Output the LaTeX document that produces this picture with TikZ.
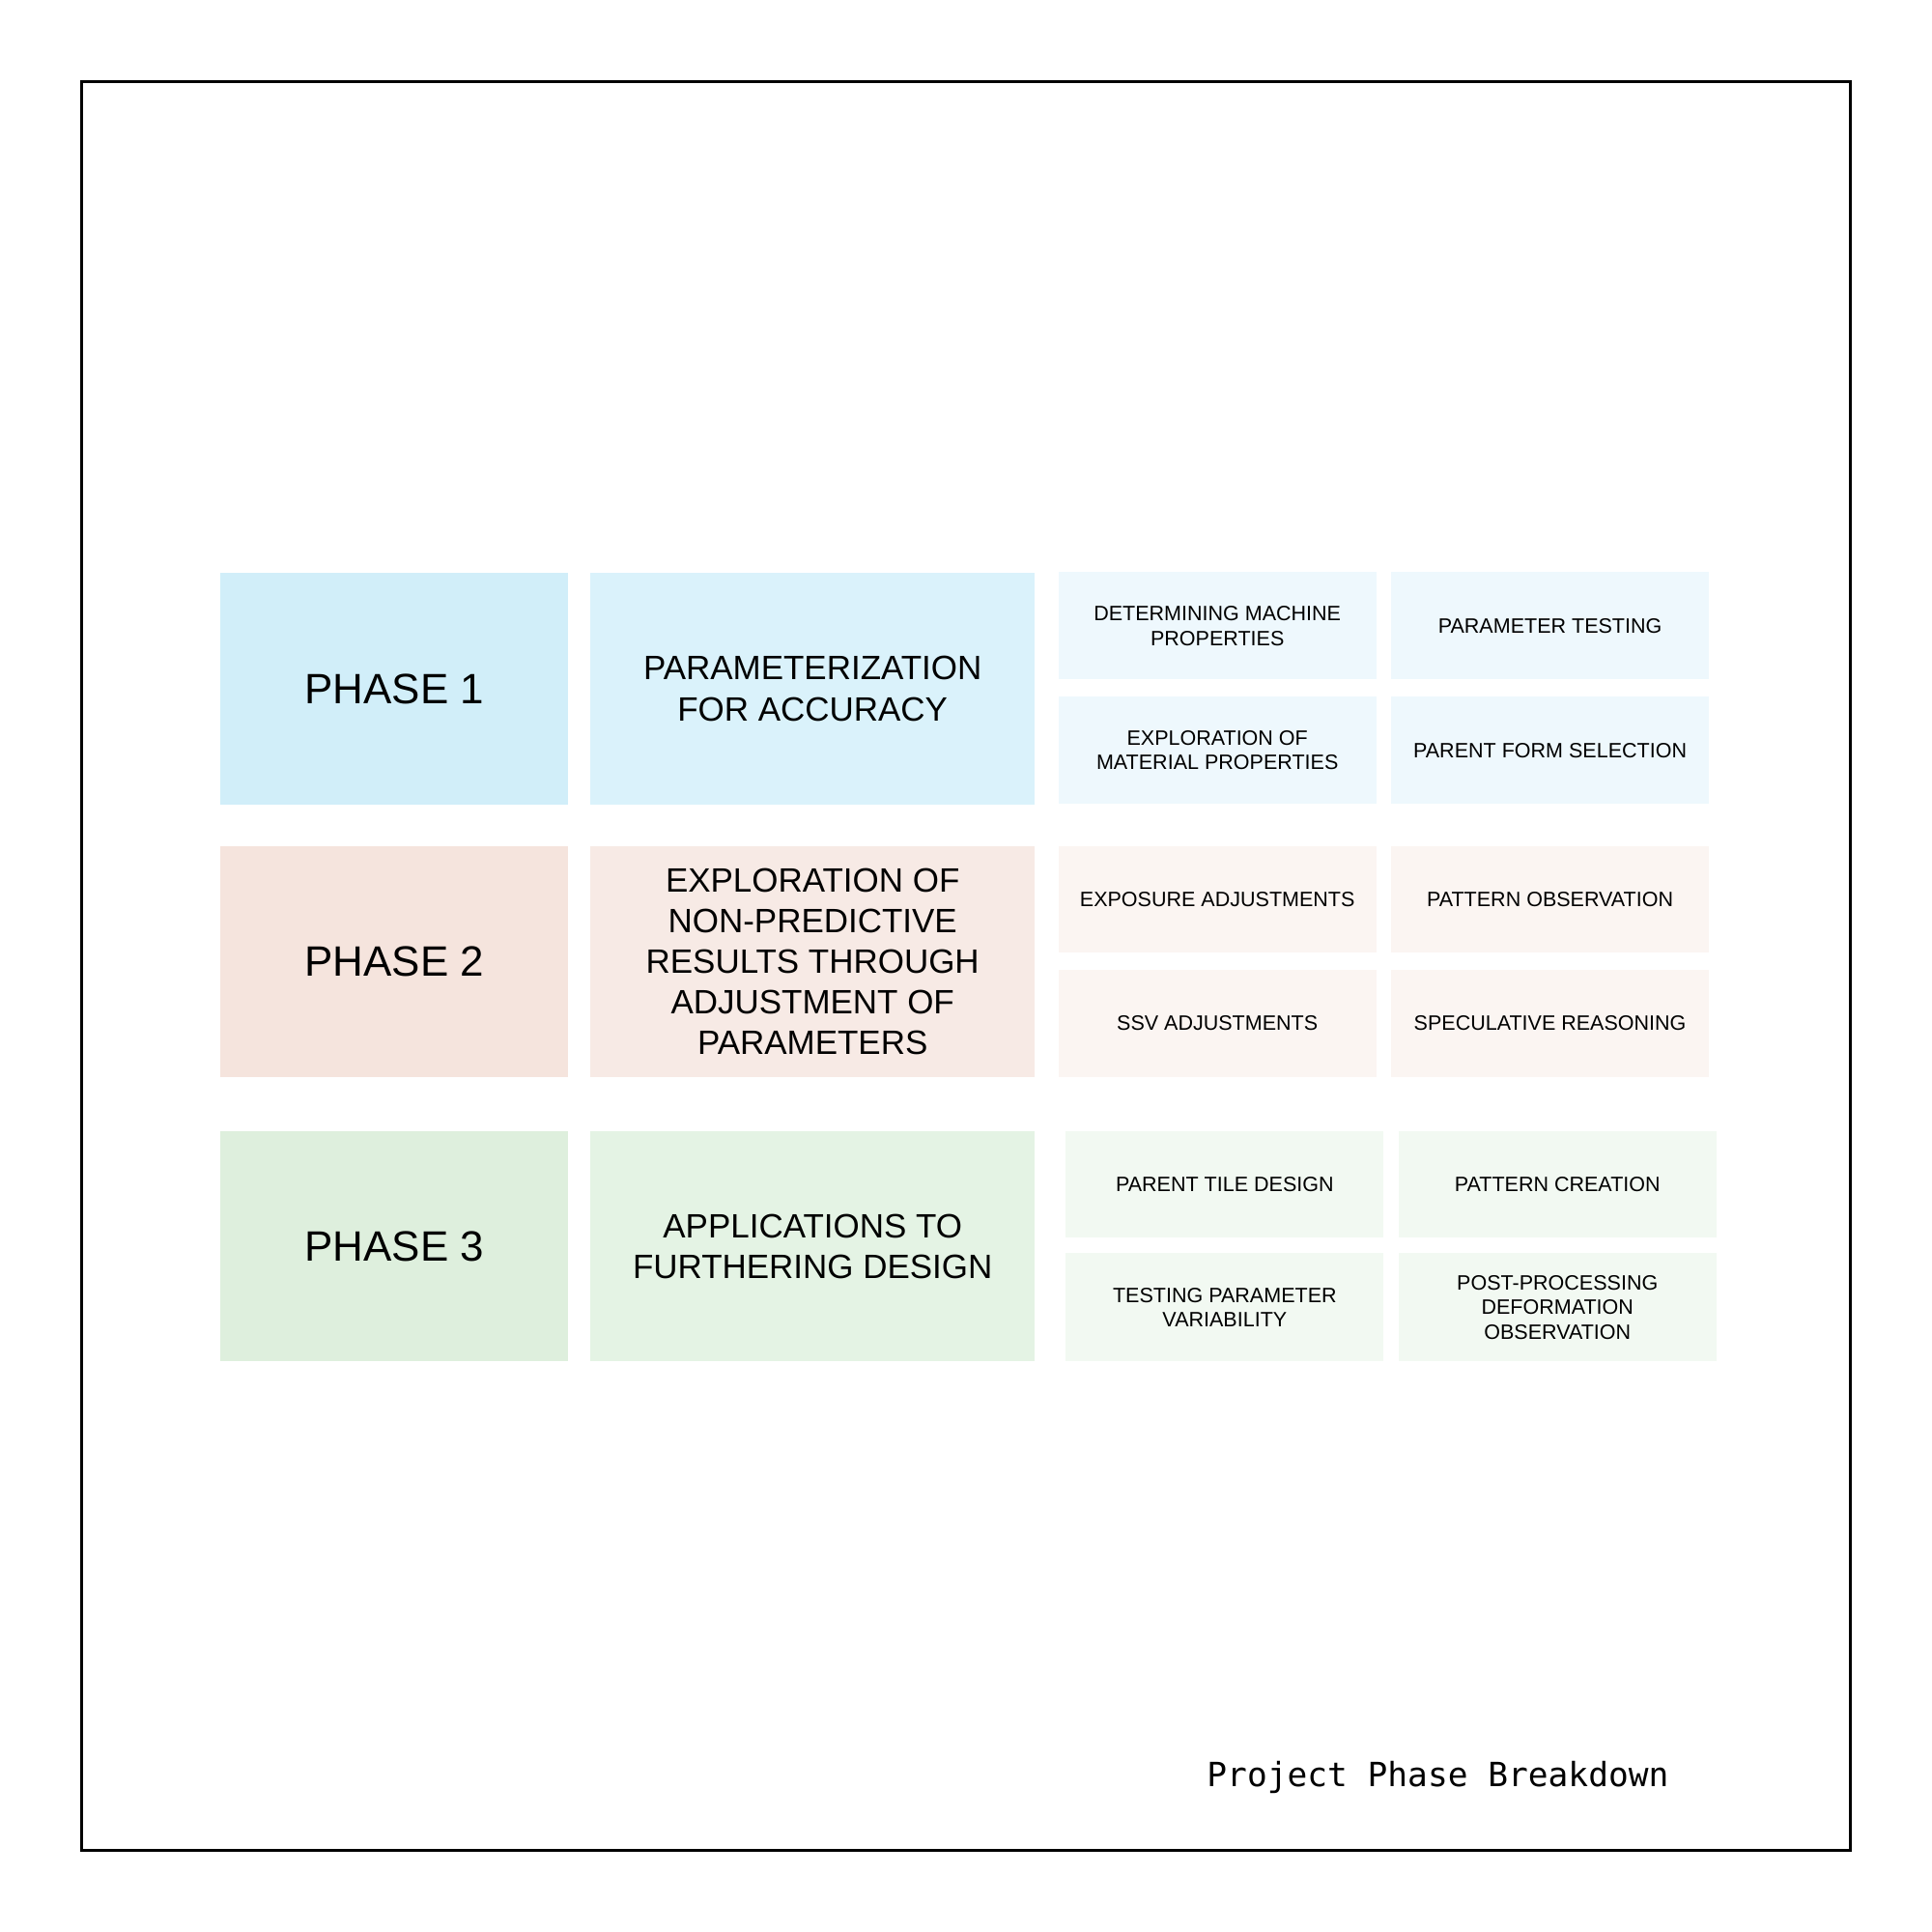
\documentclass[tikz,border=0pt]{standalone}
\usepackage{fontspec}
\setmainfont{Liberation Sans}
\newfontfamily\captionmono{DejaVu Sans Mono}
\usetikzlibrary{positioning}
\definecolor{phaseA}{HTML}{D1EEF9}
\definecolor{descA}{HTML}{DAF2FB}
\definecolor{subA}{HTML}{EEF8FD}
\definecolor{phaseB}{HTML}{F5E4DD}
\definecolor{descB}{HTML}{F7EAE5}
\definecolor{subB}{HTML}{FBF5F2}
\definecolor{phaseC}{HTML}{DEEFDD}
\definecolor{descC}{HTML}{E4F3E4}
\definecolor{subC}{HTML}{F2F9F2}
\tikzset{
	cell/.style={inner sep=0pt, outer sep=0pt, align=center, text=black},
	phasebox/.style={cell, minimum width=28.2mm, minimum height=18.8mm, font=\fontsize{9.8}{11.8}\selectfont},
	descbox/.style={cell, minimum width=36.1mm, minimum height=18.8mm, font=\fontsize{7.8}{9.4}\selectfont},
	subbox/.style={cell, minimum width=25.8mm, minimum height=8.7mm, font=\fontsize{4.8}{5.7}\selectfont}
}

\begin{document}
\begin{tikzpicture}[x=0.1mm, y=-0.1mm]
		%%%%% START %%%%%
		\useasboundingbox (0, 0) rectangle (1568, 1568);
		\draw[line width=0.6pt] (66, 66) rectangle (1502, 1502);
		
		% phase 1
		\node[phasebox, fill=phaseA] (p1) at (320, 559) {PHASE 1};
		\node[descbox, fill=descA] (d1) at (659.5, 559) {PARAMETERIZATION\\FOR ACCURACY};
		\node[subbox, fill=subA] (s1a) at (988, 508) {DETERMINING MACHINE\\PROPERTIES};
		\node[subbox, fill=subA] (s1b) at (1258, 508) {PARAMETER TESTING};
		\node[subbox, fill=subA] (s1c) at (988, 609) {EXPLORATION OF\\MATERIAL PROPERTIES};
		\node[subbox, fill=subA] (s1d) at (1258, 609) {PARENT FORM SELECTION};
		
		% phase 2
		\node[phasebox, fill=phaseB, minimum height=18.7mm] (p2) at (320, 780.5) {PHASE 2};
		\node[descbox, fill=descB, minimum height=18.7mm] (d2) at (659.5, 780.5) {EXPLORATION OF\\NON-PREDICTIVE\\RESULTS THROUGH\\ADJUSTMENT OF\\PARAMETERS};
		\node[subbox, fill=subB, minimum height=8.6mm] (s2a) at (988, 730) {EXPOSURE ADJUSTMENTS};
		\node[subbox, fill=subB, minimum height=8.6mm] (s2b) at (1258, 730) {PATTERN OBSERVATION};
		\node[subbox, fill=subB] (s2c) at (988, 830.5) {SSV ADJUSTMENTS};
		\node[subbox, fill=subB] (s2d) at (1258, 830.5) {SPECULATIVE REASONING};
		
		% phase 3
		\node[phasebox, fill=phaseC, minimum height=18.7mm] (p3) at (320, 1011.5) {PHASE 3};
		\node[descbox, fill=descC, minimum height=18.7mm] (d3) at (659.5, 1011.5) {APPLICATIONS TO\\FURTHERING DESIGN};
		\node[subbox, fill=subC, minimum height=8.6mm] (s3a) at (994, 961) {PARENT TILE DESIGN};
		\node[subbox, fill=subC, minimum height=8.6mm] (s3b) at (1264, 961) {PATTERN CREATION};
		\node[subbox, fill=subC, minimum height=8.8mm] (s3c) at (994, 1061) {TESTING PARAMETER\\VARIABILITY};
		\node[subbox, fill=subC, minimum height=8.8mm] (s3d) at (1264, 1061) {POST-PROCESSING\\DEFORMATION\\OBSERVATION};
		
		\node[anchor=base east, inner sep=0pt, font=\captionmono\fontsize{7.7}{9}\selectfont] (title) at (1355, 1450) {Project Phase Breakdown};
		%%%%% END %%%%%
\end{tikzpicture}
\end{document}
